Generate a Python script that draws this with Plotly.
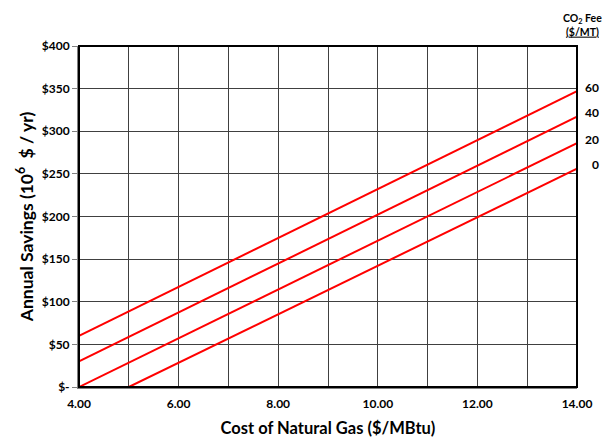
import plotly.graph_objects as go

co2_fees = ["60", "40", "20", "0"]
gas_start = [4.0, 4.0, 4.0, 5.0]
gas_end = [14.0, 14.0, 14.0, 14.0]
savings_start = [60, 30, 0, 0]
savings_end = [347, 317, 286, 256]

x_ticks = [4, 6, 8, 10, 12, 14]
x_ticktext = ["4.00", "6.00", "8.00", "10.00", "12.00", "14.00"]
y_ticks = [0, 50, 100, 150, 200, 250, 300, 350, 400]
y_ticktext = ["$-", "$50", "$100", "$150", "$200", "$250", "$300", "$350", "$400"]

FONT = "Lato, 'Open Sans', sans-serif"

fig = go.Figure()
for fee, x0, x1, y0, y1 in zip(co2_fees, gas_start, gas_end, savings_start, savings_end):
    fig.add_trace(go.Scatter(x=[x0, x1], y=[y0, y1], mode="lines",
                             line=dict(color="#ff0000", width=2), name=fee,
                             showlegend=False, cliponaxis=False))
    fig.add_annotation(x=1.0, xref="paper", y=y1, yref="y", text="<b>" + fee + "</b>",
                       showarrow=False, xanchor="right", xshift=24, yshift=4,
                       font=dict(family=FONT, size=12, color="#000000"))

fig.add_annotation(x=1.0, xref="paper", y=1.0, yref="paper",
                   text="<b>CO<sub>2</sub> Fee</b><br><b><u>($/MT)</u></b>",
                   showarrow=False, xanchor="right", yanchor="bottom", xshift=27, yshift=6,
                   align="center", font=dict(family=FONT, size=10.5, color="#000000"))

fig.update_layout(
    width=605, height=430,
    margin=dict(l=71, r=36, t=38, b=51, autoexpand=False),
    paper_bgcolor="white", plot_bgcolor="white",
    font=dict(family=FONT, color="#000000"),
    xaxis=dict(range=[4, 14], tickvals=x_ticks, ticktext=x_ticktext, automargin=False,
               showgrid=True, gridcolor="#404040", gridwidth=1,
               minor=dict(dtick=1, tick0=4, showgrid=True, gridcolor="#404040", gridwidth=1),
               showline=True, linecolor="#808080", linewidth=2, mirror=False,
               zeroline=False, ticks="", ticklabelstandoff=5,
               tickfont=dict(size=12, family=FONT, weight="bold"),
               title=dict(text="<b>Cost of Natural Gas ($/MBtu)</b>", font=dict(size=16.5, family=FONT),
                          standoff=12)),
    yaxis=dict(range=[0, 400], tickvals=y_ticks, ticktext=y_ticktext, automargin=False,
               showgrid=True, gridcolor="#404040", gridwidth=1,
               showline=True, linecolor="#808080", linewidth=2,
               zeroline=False, ticks="outside", ticklen=5, tickcolor="#808080",
               tickfont=dict(size=12, family=FONT, weight="bold"),
               title=dict(text="<b>Annual Savings (10<sup>6</sup>  $ / yr)</b>", font=dict(size=17.5, family=FONT),
                          standoff=4)),
)
# top and right black border
fig.add_shape(type="rect", xref="paper", yref="paper", x0=0, y0=0, x1=1, y1=1,
              line=dict(color="#000000", width=2), layer="above")

fig.write_html("out.html")
